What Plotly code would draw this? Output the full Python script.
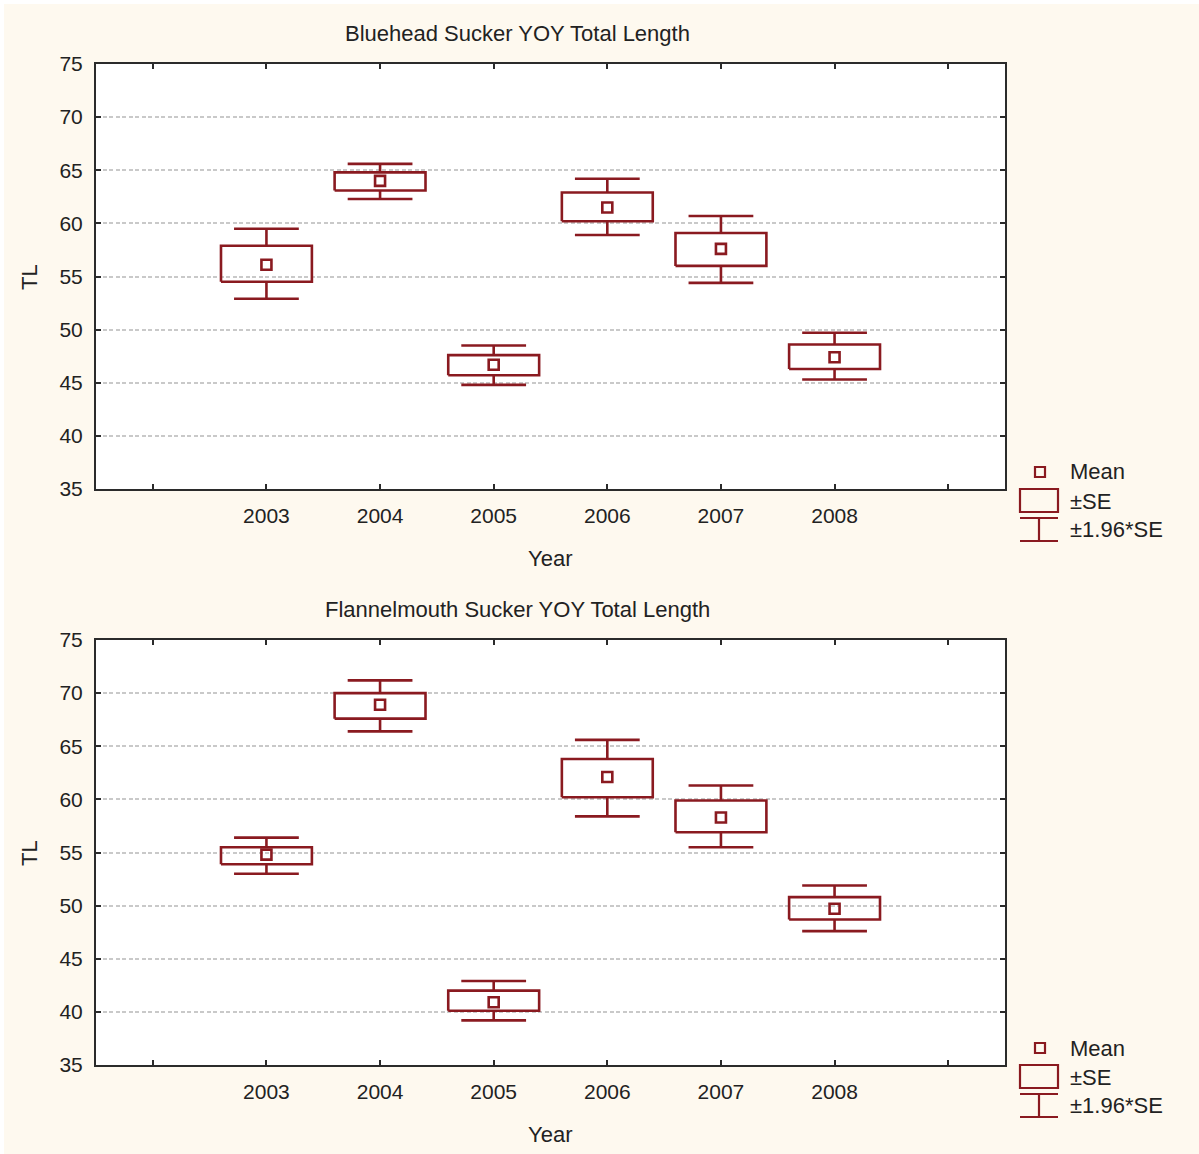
import plotly.graph_objects as go
from plotly.subplots import make_subplots

# ---------------- data ----------------
years = [2003, 2004, 2005, 2006, 2007, 2008]
tick_years = [2002, 2003, 2004, 2005, 2006, 2007, 2008, 2009]
tick_text = ["", "2003", "2004", "2005", "2006", "2007", "2008", ""]

# Bluehead Sucker
bh_mean = [56.1, 64.0, 46.7, 61.5, 57.6, 47.4]
bh_se_lo = [54.5, 63.1, 45.7, 60.2, 56.0, 46.3]
bh_se_hi = [57.9, 64.8, 47.6, 62.9, 59.1, 48.6]
bh_ci_lo = [52.9, 62.3, 44.8, 58.9, 54.4, 45.3]
bh_ci_hi = [59.5, 65.6, 48.5, 64.2, 60.7, 49.7]

# Flannelmouth Sucker
fm_mean = [54.8, 68.9, 40.9, 62.1, 58.3, 49.7]
fm_se_lo = [53.9, 67.6, 40.1, 60.2, 56.9, 48.7]
fm_se_hi = [55.5, 70.0, 42.0, 63.8, 59.9, 50.8]
fm_ci_lo = [53.0, 66.4, 39.2, 58.4, 55.5, 47.6]
fm_ci_hi = [56.4, 71.2, 42.9, 65.6, 61.3, 51.9]

titles = ["Bluehead Sucker YOY Total Length", "Flannelmouth Sucker YOY Total Length"]
y_ticks = [35, 40, 45, 50, 55, 60, 65, 70, 75]
legend_labels = ["Mean", "±SE", "±1.96*SE"]

# ---------------- style ----------------
RED = "#8A1A20"
CREAM = "#FEF9EF"
AXC = "#2B2B2B"
TXT = "#222222"
FONT = "Liberation Sans, Arial, sans-serif"
TICK_SIZE = 21
TEXT_SIZE = 22
BOX_HW = 0.4
CAP_HW = 0.285
LW = 2.6

W, H = 1199, 1154
L, R, T, B = 96, 1005, 64, 1065  # plot area pixel bounds (both panels)


def px_x(px):
    return (px - L) / (R - L)


def px_y(py):
    return 1 - (py - T) / (B - T)


top_dom = [px_y(489), px_y(64)]
bot_dom = [px_y(1065), px_y(640)]

fig = make_subplots(rows=2, cols=1, vertical_spacing=0.1)
fig.update_layout(yaxis=dict(domain=top_dom), yaxis2=dict(domain=bot_dom))


def add_panel(row, mean, se_lo, se_hi, ci_lo, ci_hi):
    xs, ys = [], []
    for x, m, sl, sh, cl, ch in zip(years, mean, se_lo, se_hi, ci_lo, ci_hi):
        xs += [x - BOX_HW, x + BOX_HW, x + BOX_HW, x - BOX_HW, x - BOX_HW, None]
        ys += [sl, sl, sh, sh, sl, None]
        xs += [x, x, None, x - CAP_HW, x + CAP_HW, None]
        ys += [sh, ch, None, ch, ch, None]
        xs += [x, x, None, x - CAP_HW, x + CAP_HW, None]
        ys += [sl, cl, None, cl, cl, None]
    fig.add_trace(go.Scatter(x=xs, y=ys, mode="lines",
                             line=dict(color=RED, width=LW),
                             hoverinfo="skip", showlegend=False), row=row, col=1)
    fig.add_trace(go.Scatter(x=years, y=mean, mode="markers",
                             marker=dict(symbol="square-open", size=10, color=RED,
                                         line=dict(color=RED, width=LW)),
                             showlegend=False), row=row, col=1)


add_panel(1, bh_mean, bh_se_lo, bh_se_hi, bh_ci_lo, bh_ci_hi)
add_panel(2, fm_mean, fm_se_lo, fm_se_hi, fm_ci_lo, fm_ci_hi)

axis_common = dict(showline=True, linewidth=2, linecolor=AXC, mirror="ticks",
                   ticks="inside", ticklen=5, tickwidth=2, tickcolor=AXC,
                   tickfont=dict(family=FONT, size=TICK_SIZE, color=TXT),
                   zeroline=False)
for r in (1, 2):
    fig.update_xaxes(range=[2001.5, 2009.5], tickvals=tick_years, ticktext=tick_text,
                     showgrid=False, ticklabelstandoff=7, row=r, col=1, **axis_common)
    fig.update_yaxes(range=[35, 75], tickvals=y_ticks, showgrid=True,
                     gridcolor="#C9C9C9", gridwidth=1.6, griddash="4px,2.5px",
                     ticklabelstandoff=7, row=r, col=1, **axis_common)

shapes = []
# white 4px strip on top and left edges
shapes.append(dict(type="rect", xref="paper", yref="paper", layer="below",
                   x0=px_x(-5), x1=px_x(W + 5), y0=px_y(4), y1=px_y(-5),
                   fillcolor="white", line=dict(width=0)))
shapes.append(dict(type="rect", xref="paper", yref="paper", layer="below",
                   x0=px_x(-5), x1=px_x(4), y0=px_y(H + 5), y1=px_y(-5),
                   fillcolor="white", line=dict(width=0)))

annotations = []
for title, oy in zip(titles, [0, 576]):
    annotations.append(dict(text=title, x=px_x(517), y=px_y(33 + oy), xref="paper", yref="paper",
                            showarrow=False, font=dict(family=FONT, size=TEXT_SIZE, color=TXT),
                            xanchor="center", yanchor="middle"))
    annotations.append(dict(text="Year", x=px_x(550), y=px_y(558 + oy), xref="paper", yref="paper",
                            showarrow=False, font=dict(family=FONT, size=TEXT_SIZE, color=TXT),
                            xanchor="center", yanchor="middle"))
    annotations.append(dict(text="TL", x=px_x(29), y=px_y(277 + oy), xref="paper", yref="paper",
                            showarrow=False, textangle=-90,
                            font=dict(family=FONT, size=TEXT_SIZE, color=TXT),
                            xanchor="center", yanchor="middle"))
    lc = dict(color=RED, width=2.2)
    shapes.append(dict(type="rect", xref="paper", yref="paper",
                       x0=px_x(1035), x1=px_x(1045), y0=px_y(477 + oy), y1=px_y(467 + oy), line=lc))
    shapes.append(dict(type="rect", xref="paper", yref="paper",
                       x0=px_x(1020), x1=px_x(1058), y0=px_y(512 + oy), y1=px_y(489 + oy), line=lc))
    shapes.append(dict(type="line", xref="paper", yref="paper",
                       x0=px_x(1020), x1=px_x(1058), y0=px_y(518 + oy), y1=px_y(518 + oy), line=lc))
    shapes.append(dict(type="line", xref="paper", yref="paper",
                       x0=px_x(1020), x1=px_x(1058), y0=px_y(541 + oy), y1=px_y(541 + oy), line=lc))
    shapes.append(dict(type="line", xref="paper", yref="paper",
                       x0=px_x(1039), x1=px_x(1039), y0=px_y(518 + oy), y1=px_y(541 + oy), line=lc))
    for lab, ly in zip(legend_labels, [472, 501, 529]):
        annotations.append(dict(text=lab, x=px_x(1068), y=px_y(ly + oy), xref="paper", yref="paper",
                                showarrow=False, font=dict(family=FONT, size=TEXT_SIZE, color=TXT),
                                xanchor="left", yanchor="middle"))

fig.update_layout(width=W, height=H,
                  margin=dict(l=L, r=W - R, t=T, b=H - B, pad=0),
                  paper_bgcolor=CREAM, plot_bgcolor="white",
                  shapes=shapes, annotations=annotations, showlegend=False)

fig.write_html("out.html", config={"displayModeBar": False},
               post_script="document.body.style.margin='0';document.body.style.overflow='hidden';")
